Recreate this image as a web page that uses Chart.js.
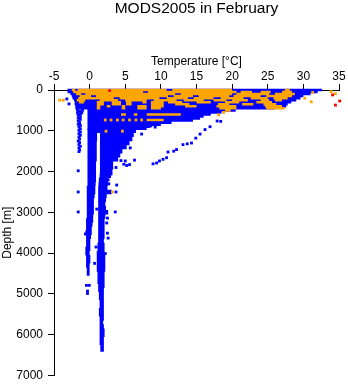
<!DOCTYPE html>
<html>
<head>
<meta charset="utf-8">
<title>MODS2005 in February</title>
<script src="https://cdn.jsdelivr.net/npm/chart.js"></script>
<style>
  html, body { margin: 0; padding: 0; background: #fff; }
  #profile { display: block; }
</style>
</head>
<body>
<canvas id="profile" width="348" height="384"></canvas>
<script>
    "use strict";

    var BLUE = '#0000ff';
    var ORANGE = '#ffa500';
    var RED = '#ff0000';

    var tempTicks = [-5, 0, 5, 10, 15, 20, 25, 30, 35];
    var depthTicks = [0, 1000, 2000, 3000, 4000, 5000, 6000, 7000];

    // dense blue profiles, 0-950 m: [depth, tStart, tEnd, tStart, tEnd, ...]
    var blueUpper = [
        [0, -3.1, 32.6],
        [50, -3.1, 32.0],
        [100, -2.7, 31.0],
        [150, -2.5, 30.0],
        [200, -2.4, 29.6],
        [250, -2.2, 29.0],
        [300, -2.1, 28.3],
        [350, -2.1, 27.8],
        [400, -2.0, 27.6],
        [450, -2.0, 26.0],
        [500, -0.3, 20.5],
        [550, -0.3, 18.5],
        [600, -0.3, 17.0],
        [650, -0.3, 16.0],
        [700, -0.3, 15.5],
        [750, -0.3, 14.5],
        [800, -0.3, 11.5],
        [850, -0.3, 10.0],
        [900, -0.3, 8.5],
        [950, -0.3, 8.0]
    ];

    // dense blue profiles, 1000 m down: the two deep columns
    var blueDeep = [
        [1000, -0.3, 6.5],
        [1100, -0.3, 1.05, 1.45, 6.2],
        [1200, -0.3, 1.05, 1.45, 6.0],
        [1300, -0.3, 1.0, 1.45, 5.6],
        [1400, -0.3, 1.0, 1.45, 5.2],
        [1500, -0.3, 1.0, 1.45, 4.6],
        [1600, -0.3, 1.0, 1.45, 4.3],
        [1700, -0.3, 1.0, 1.45, 4.0],
        [1800, -0.3, 0.9, 1.45, 3.3],
        [1900, -0.3, 0.9, 1.45, 3.3],
        [2000, -0.3, 0.9, 1.45, 3.2],
        [2100, -0.3, 0.9, 1.4, 3.0],
        [2200, -0.3, 0.9, 1.3, 2.6],
        [2300, -0.3, 0.85, 1.25, 2.6],
        [2400, -0.4, 0.8, 1.2, 2.5],
        [2500, -0.4, 0.8, 1.2, 3.1],
        [2600, -0.4, 0.7, 1.2, 2.4],
        [2700, -0.4, 0.6, 1.2, 2.3],
        [2800, -0.4, 0.6, 1.2, 2.2],
        [2900, -0.4, 0.6, 1.2, 2.3],
        [3000, -0.4, 0.6, 1.2, 2.6],
        [3100, -0.4, 0.5, 1.2, 2.2],
        [3200, -0.5, 0.5, 1.2, 2.1],
        [3300, -0.5, 0.4, 1.2, 2.1],
        [3400, -0.5, 0.3, 1.2, 2.1],
        [3500, -0.6, 0.3, 1.2, 2.1],
        [3600, -0.5, 0.2, 1.2, 2.1],
        [3700, -0.5, 0.1, 1.2, 2.0],
        [3800, -0.5, 0.1, 1.1, 2.1],
        [3900, -0.6, 0.1, 1.1, 2.1],
        [4000, -0.6, 0.0, 1.0, 2.1],
        [4100, -0.5, 0.1, 1.0, 2.2],
        [4200, -0.5, 0.1, 1.0, 2.2],
        [4300, -0.5, 0.0, 1.0, 2.2],
        [4400, -0.4, 0.0, 1.0, 2.2],
        [4500, -0.4, 0.0, 1.1, 2.1],
        [4600, 1.1, 2.1],
        [4700, 1.1, 2.1],
        [4800, 1.2, 2.1],
        [4900, 1.2, 2.0],
        [5000, 1.3, 2.0],
        [5100, 1.3, 2.0],
        [5200, 1.4, 2.0],
        [5300, 1.4, 2.0],
        [5400, 1.3, 2.0],
        [5500, 1.3, 2.0],
        [5600, 1.4, 2.0],
        [5700, 1.4, 1.9],
        [5800, 1.4, 2.0],
        [5900, 1.4, 2.1],
        [6000, 1.4, 2.1],
        [6100, 1.4, 2.0],
        [6200, 1.4, 2.0],
        [6300, 1.5, 2.0],
        [6360, 1.5, 2.0]
    ];

    // orange profiles in the surface layer
    var orangeUpper = [
        [0, -2.5, -2.0, -1.7, 10.8, 11.6, 20.0, 27.4, 28.1],
        [50, -2.3, 7.5, 8.2, 20.6, 21.2, 22.8, 24.0, 25.4, 27.0, 28.4],
        [100, -1.9, -1.2, -0.6, 12.0, 12.8, 20.0, 20.6, 25.2, 26.0, 28.8],
        [150, -1.4, 0.2, 0.9, 11.0, 11.8, 14.5, 15.3, 19.6, 20.2, 24.0, 24.8, 28.4],
        [200, -1.6, 3.4, 4.2, 9.8, 10.8, 13.8, 14.6, 17.4, 18.4, 21.6, 22.6, 25.0, 25.8, 27.8],
        [250, -1.8, -0.6, 1.4, 4.0, 5.0, 8.0, 9.0, 12.2, 13.2, 16.0, 17.4, 19.2, 20.0, 22.2, 24.0, 25.2, 26.0, 27.0],
        [300, -1.5, -0.8, 1.0, 2.0, 3.1, 4.4, 5.1, 5.9, 7.4, 8.0, 8.6, 10.4, 11.0, 13.0, 15.0, 17.0, 19.0, 21.0, 23.4, 25.6],
        [350, 1.0, 2.0, 3.1, 4.4, 5.1, 5.9, 8.6, 10.4, 12.0, 14.0, 18.0, 19.6, 21.4, 23.0, 24.4, 26.2],
        [400, 1.0, 1.5, 2.4, 2.9, 4.5, 5.0, 6.7, 8.0, 8.6, 10.4, 13.4, 15.0, 17.8, 20.6, 24.6, 27.0],
        [450, 1.0, 1.5, 4.5, 5.0, 6.7, 8.0, 8.6, 10.0, 18.2, 20.6, 24.8, 27.4],
        [500, 19.0, 19.8],
        [600, 4.4, 5.1, 6.2, 6.7, 8.0, 12.8],
        [735, 8.0, 10.4]
    ];

    // single blue casts: [temperature, depth]
    var blueDots = [
        [-3.2, 220], [-2.9, 340],
        // cold line west of the main columns
        [-1.7, 500], [-1.4, 520], [-1.0, 500], [-1.7, 560], [-1.3, 580], [-1.1, 560],
        [-1.6, 620], [-1.3, 650], [-1.6, 690], [-1.3, 720], [-1.6, 760], [-1.4, 800],
        [-1.6, 840], [-1.3, 870], [-1.5, 910], [-1.3, 950], [-1.5, 990], [-1.3, 1030],
        [-1.5, 1070], [-1.3, 1110], [-1.5, 1150], [-1.4, 1200], [-1.6, 1250], [-1.4, 1290],
        [-1.5, 1340], [-1.3, 1380], [-1.5, 1420], [-1.4, 1470], [-1.5, 1510],
        [-1.6, 1980], [-1.6, 2500], [-1.6, 2990],
        // around the deep columns
        [3.7, 1900], [3.0, 2060], [2.6, 2200], [2.7, 2300], [3.8, 2330], [3.7, 2500], [3.6, 2990],
        [1.0, 2920], [2.5, 3140], [2.4, 3260], [2.5, 3510], [2.6, 3630], [-0.6, 3530], [0.9, 3850],
        [2.2, 4010], [0.7, 4250],
        [-0.45, 4790], [-0.05, 4790], [-0.3, 4930], [-0.3, 4990],
        // warm tail
        [8.6, 880], [9.2, 910], [7.3, 1080], [5.7, 1420], [4.4, 1730], [5.0, 1740], [6.3, 1720],
        [4.8, 1820], [5.2, 1850], [5.6, 1830],
        [17.9, 760], [18.4, 770], [16.9, 900], [16.2, 970], [15.5, 1080], [14.9, 1180],
        [14.3, 1300], [13.7, 1320], [13.1, 1340], [12.2, 1460], [11.8, 1500], [11.0, 1520],
        [10.8, 1660], [10.3, 1700], [9.8, 1740], [9.4, 1790], [8.9, 1810]
    ];

    var orangeDots = [
        [-4.2, 250], [-3.7, 250],
        [2.2, 735], [3.0, 735], [3.9, 735], [4.7, 735], [5.6, 735], [6.5, 735], [7.3, 735],
        [2.3, 1010], [4.6, 1010], [3.2, 2500],
        [18.8, 550], [18.1, 610],
        [30.2, 200], [31.1, 290], [31.3, 60], [33.9, 40], [34.5, 90]
    ];

    var redDots = [[2.8, 15], [34.1, 120], [35.1, 270], [34.5, 370]];

    // [depth, a, b, c, d] -> horizontal runs a..b and c..d at that depth, split by gaps
    function toRuns(rows) {
        var out = [];
        rows.forEach(function (row) {
            for (var i = 1; i < row.length; i += 2) {
                out.push({x: row[i], y: row[0]}, {x: row[i + 1], y: row[0]}, {x: null, y: null});
            }
        });
        return out;
    }

    function toPoints(list) {
        return list.map(function (p) {
            return {x: p[0], y: p[1]};
        });
    }

    function runSet(rows, color, thickness, order) {
        return {
            type: 'line',
            data: toRuns(rows),
            borderColor: color,
            borderWidth: thickness,
            borderCapStyle: 'butt',
            pointRadius: 0,
            fill: false,
            spanGaps: false,
            clip: false,
            order: order,
        };
    }

    function dotSet(list, color, order) {
        return {
            type: 'scatter',
            data: toPoints(list),
            backgroundColor: color,
            pointStyle: 'rect',
            pointRadius: 2,
            pointBorderWidth: 0,
            clip: false,
            order: order,
        };
    }

    Chart.defaults.font.family = '"Liberation Sans", Arial, sans-serif';
    Chart.defaults.color = '#000';

    var axisFont = {size: 12};

    var ctx = document.getElementById('profile');
    new Chart(ctx, {
        type: 'scatter',
        data: {
            datasets: [
                dotSet(redDots, RED, 0),
                dotSet(orangeDots, ORANGE, 1),
                dotSet(blueDots, BLUE, 2),
                runSet(orangeUpper, ORANGE, 2.5, 3),
                runSet(blueUpper, BLUE, 2.5, 4),
                runSet(blueDeep, BLUE, 4.5, 5),
            ],
        },
        options: {
            responsive: false,
            animation: false,
            events: [],
            layout: {padding: {left: 0, right: 9, top: 0, bottom: 8.5}},
            plugins: {
                legend: {display: false},
                tooltip: {enabled: false},
                title: {
                    display: true,
                    text: 'MODS2005 in February',
                    fullSize: false,
                    color: '#000',
                    font: {size: 15.5, weight: 'normal', lineHeight: 1},
                    padding: {top: 1, bottom: 35},
                },
            },
            scales: {
                x: {
                    type: 'linear',
                    position: 'top',
                    min: -5,
                    max: 35,
                    afterBuildTicks: function (scale) {
                        scale.ticks = tempTicks.map(function (v) { return {value: v}; });
                    },
                    afterFit: function (scale) { scale.height = 38.5; },
                    ticks: {font: axisFont, color: '#000', padding: 0.5, maxRotation: 0},
                    grid: {drawOnChartArea: false, color: '#000', tickLength: 6},
                    border: {color: '#000', width: 1},
                    title: {display: true, text: 'Temperature [°C]', color: '#000', font: axisFont, padding: {top: 2.5, bottom: 0}},
                },
                y: {
                    type: 'linear',
                    reverse: true,
                    min: 0,
                    max: 7000,
                    afterBuildTicks: function (scale) {
                        scale.ticks = depthTicks.map(function (v) { return {value: v}; });
                    },
                    afterFit: function (scale) {
                        scale.width = 54;
                        // the end labels may hang over the plot edges
                        scale.paddingTop = 0;
                        scale.paddingBottom = 0;
                    },
                    ticks: {
                        font: axisFont,
                        color: '#000',
                        padding: 5,
                        callback: function (value) { return String(value); },
                    },
                    grid: {drawOnChartArea: false, color: '#000', tickLength: 6},
                    border: {color: '#000', width: 1},
                    title: {display: true, text: 'Depth [m]', color: '#000', font: axisFont, padding: {top: 0, bottom: 0}},
                },
            },
        },
    });
</script>
</body>
</html>
